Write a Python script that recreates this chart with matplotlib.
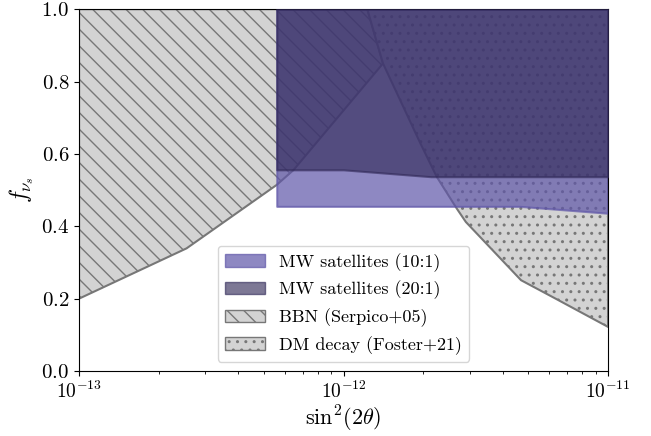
import matplotlib
matplotlib.use('Agg')
import matplotlib.pyplot as plt
from matplotlib.patches import Patch
from matplotlib.ticker import FuncFormatter, NullFormatter
import numpy as np

plt.rcParams['font.family'] = 'serif'
plt.rcParams['font.serif'] = ['cmr10', 'DejaVu Serif']
plt.rcParams['mathtext.fontset'] = 'cm'
plt.rcParams['axes.unicode_minus'] = False
plt.rcParams['hatch.linewidth'] = 1.0

# BBN (Serpico+05) excluded region boundary
bbn_x = [1e-13, 2.55e-13, 5.58e-13, 6.46e-13, 1.41e-12, 1.23e-12, 1e-13]
bbn_f = [0.2, 0.339, 0.514, 0.555, 0.85, 1.0, 1.0]

# DM decay (Foster+21) excluded region boundary
dm_x = [1.23e-12, 1.41e-12, 1.95e-12, 2.25e-12, 2.68e-12, 2.90e-12, 4.69e-12, 6.19e-12, 1e-11, 1e-11]
dm_f = [1.0, 0.85, 0.63, 0.537, 0.449, 0.412, 0.251, 0.204, 0.122, 1.0]

# MW satellites lower limits
mw10_x = [5.59e-13, 4.65e-12, 1e-11]
mw10_f = [0.455, 0.455, 0.436]
mw20_x = [5.59e-13, 1e-12, 2.14e-12, 1e-11]
mw20_f = [0.556, 0.556, 0.537, 0.537]

light = '#5f56a8'
dark = '#312958'
grey = '#777777'

fig = plt.figure(figsize=(6.51, 4.36), dpi=100)
ax = fig.add_axes([0.1214, 0.149, 0.8126, 0.830])

ax.fill(bbn_x, bbn_f, facecolor='lightgrey', edgecolor=grey, hatch='\\\\', lw=1.5, zorder=1)
ax.fill(dm_x, dm_f, facecolor='lightgrey', edgecolor=grey, hatch='..', lw=1.5, zorder=1)

ax.fill_between(mw10_x, mw10_f, 1.0, facecolor=light, edgecolor=light, alpha=0.7, lw=1.5, zorder=2)
ax.fill_between(mw20_x, mw20_f, 1.0, facecolor=dark, edgecolor=dark, alpha=0.63, lw=1.5, zorder=3)

ax.set_xscale('log')
ax.set_xlim(1e-13, 1e-11)
ax.set_ylim(0, 1)
ax.set_yticks([0, 0.2, 0.4, 0.6, 0.8, 1.0])
ax.yaxis.set_major_formatter(FuncFormatter(lambda v, p: '$%.1f$' % v))
ax.xaxis.set_minor_formatter(NullFormatter())
ax.tick_params(axis='y', labelsize=15)
ax.tick_params(axis='x', labelsize=14)
ax.set_xlabel(r'$\mathrm{sin}^2(2\theta)$', fontsize=16, labelpad=1)
ax.set_ylabel(r'$f_{\nu_s}$', fontsize=17)

handles = [
    Patch(facecolor=light, edgecolor=light, alpha=0.7, label='MW satellites (10:1)'),
    Patch(facecolor=dark, edgecolor=dark, alpha=0.63, label='MW satellites (20:1)'),
    Patch(facecolor='lightgrey', edgecolor=grey, hatch='\\\\', label='BBN (Serpico+05)'),
    Patch(facecolor='lightgrey', edgecolor=grey, hatch='..', label='DM decay (Foster+21)'),
]
ax.legend(handles=handles, loc='lower center', fontsize=13, handlelength=2.2)

fig.savefig('out.png', dpi=100)
